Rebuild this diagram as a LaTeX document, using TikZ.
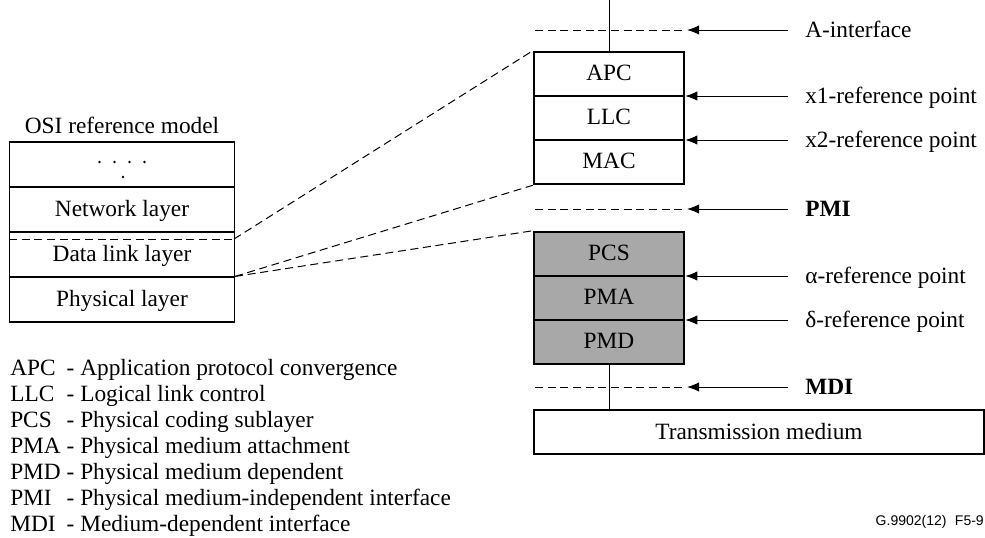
\documentclass[tikz,border=0pt]{standalone}
\usepackage{fontspec}
\setmainfont{Liberation Serif}
\newfontfamily\idfont{Liberation Sans}
\usetikzlibrary{arrows.meta}
\definecolor{layergray}{RGB}{168,168,168}
\tikzset{
  layer/.style={draw,line width=0.9pt,minimum width=168.75pt,minimum height=33.75pt,inner sep=0pt,text height=11.6pt,text depth=1.5pt},
  sublayer/.style={draw,line width=1.9pt,minimum width=112.5pt,minimum height=33pt,inner sep=0pt,text height=11.6pt,text depth=1.5pt},
  phylayer/.style={sublayer,fill=layergray},
  refline/.style={line width=0.75pt,dash pattern=on 6pt off 3.5pt},
  reflabel/.style={anchor=west,inner xsep=12.75pt,inner ysep=0pt,text height=11.6pt,text depth=0pt},
  refarrow/.style={line width=0.75pt,-{Latex[length=9pt,width=7pt]}},
}
\begin{document}
\begin{tikzpicture}[x=0.75pt,y=-0.75pt,font=\fontsize{17.5}{19.5}\selectfont]
        \useasboundingbox (0,0) rectangle (985,537);
        %% OSI reference model
        \node (osititle) at (122,125) {OSI reference model};
        \node[layer] (dots) at (122,164.5) {};
        \foreach \dx in {-22.5,-7.5,7.5,22.5}
            \fill (dots.center) ++(\dx,-2.5) circle[radius=1.1pt];
        \fill (dots.center) ++(1,12.5) circle[radius=1.1pt];
        \node[layer] (net) at (122,209.5) {Network layer};
        \node[layer] (dll) at (122,254.5) {Data link layer};
        \node[layer] (phy) at (122,299.5) {Physical layer};
        \coordinate (dllcut) at (234,239);
        \draw[refline] (dll.west |- dllcut) -- (dllcut);
        %% upper sublayers
        \node[sublayer] (apc) at (609,74) {APC};
        \node[sublayer] (llc) at (609,118) {LLC};
        \node[sublayer] (mac) at (609,162) {MAC};
        %% physical sublayers
        \node[phylayer] (pcs) at (609,254) {PCS};
        \node[phylayer] (pma) at (609,298) {PMA};
        \node[phylayer] (pmd) at (609,342) {PMD};
        %% medium
        \node[draw,line width=0.9pt,minimum width=337.5pt,minimum height=33pt,inner sep=0pt] (medium) at (759,432) {Transmission medium};
        \coordinate (feed) at (609,0);
        \draw[line width=0.75pt] (feed) -- (apc.north);
        \draw[line width=0.75pt] (pmd.south) -- (pmd.south |- medium.north);
        %% mapping to OSI
        \draw[refline] (dllcut) -- (apc.north west);
        \draw[refline] (phy.north east) -- (mac.south west);
        \draw[refline] (phy.north east) -- (pcs.north west);
        %% interfaces
        \coordinate (aifL) at (535,30);  \coordinate (aifR) at (687,30);
        \coordinate (pmiL) at (535,209); \coordinate (pmiR) at (687,209);
        \coordinate (mdiL) at (535,387); \coordinate (mdiR) at (687,387);
        \draw[refline] (aifL) -- (aifR);
        \draw[refline] (pmiL) -- (pmiR);
        \draw[refline] (mdiL) -- (mdiR);
        \node[reflabel] (aif) at (788,30) {A-interface};
        \node[reflabel] (xone) at (788,96) {x1-reference point};
        \node[reflabel] (xtwo) at (788,140) {x2-reference point};
        \node[reflabel] (pmi) at (788,209) {\textbf{PMI}};
        \node[reflabel] (alpha) at (788,276) {α-reference point};
        \node[reflabel] (delta) at (788,320) {δ-reference point};
        \node[reflabel] (mdi) at (788,387) {\textbf{MDI}};
        \draw[refarrow] (aif.west) -- (aifR);
        \draw[refarrow] (xone.west) -- (xone.west -| apc.east);
        \draw[refarrow] (xtwo.west) -- (xtwo.west -| llc.east);
        \draw[refarrow] (pmi.west) -- (pmiR);
        \draw[refarrow] (alpha.west) -- (alpha.west -| pcs.east);
        \draw[refarrow] (delta.west) -- (delta.west -| pma.east);
        \draw[refarrow] (mdi.west) -- (mdiR);
        %% legend
        \node[anchor=north west,inner sep=0pt] (legend) at (10,357) {%
            \begin{tabular}{@{}l@{ }l@{}}
            APC & - Application protocol convergence\\
            LLC & - Logical link control\\
            PCS & - Physical coding sublayer\\
            PMA & - Physical medium attachment\\
            PMD & - Physical medium dependent\\
            PMI & - Physical medium-independent interface\\
            MDI & - Medium-dependent interface
            \end{tabular}};
        \node[anchor=east,inner sep=0pt,font=\idfont\fontsize{10.5}{12}\selectfont] (figid) at (984,522) {G.9902(12)\hspace{0.6em}F5-9};
    \end{tikzpicture}
\end{document}
